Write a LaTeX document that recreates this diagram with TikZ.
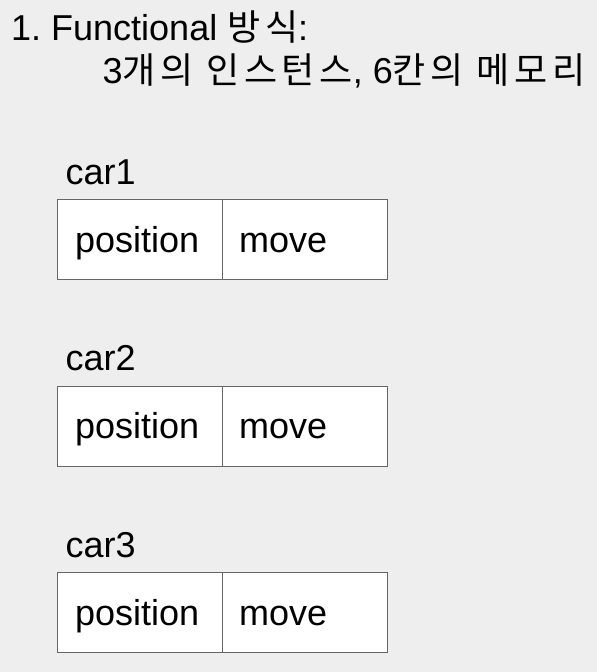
\documentclass[tikz,border=0pt]{standalone}
\usepackage{fontspec}
\setmainfont{Liberation Sans}
\newfontfamily\kr[LetterSpace=13]{Noto Sans CJK KR}
\usetikzlibrary{calc}
\definecolor{bg}{HTML}{EEEEEE}
\definecolor{bordergray}{HTML}{666666}
\frenchspacing
\begin{document}
\begin{tikzpicture}[x=1pt,y=-1pt,
  cell/.style={draw=bordergray,fill=white,line width=1.3pt,minimum width=165pt,minimum height=80pt,inner sep=0pt,anchor=north west},
  txt/.style={inner sep=0pt,anchor=base west,font=\fontsize{36}{42}\selectfont}]
\useasboundingbox[fill=bg] (0,0) rectangle (597,672);
\node[txt] (t1) at (11,40) {1. Functional {\kr 방식}:};
\node[txt] (t2) at (102.5,83) {3{\kr 개의 인스턴스}, 6{\kr 칸의 메모리}};
\foreach \i/\y in {1/199,2/385.5,3/572}{
  \node[txt] (lab\i) at (65.5,\y-15) {car\i};
  \node[cell] (p\i) at (57,\y) {};
  \node[cell] (m\i) at (222,\y) {};
  \node[txt] (pt\i) at ($(p\i.north west)+(18,53)$) {position};
  \node[txt] (mt\i) at ($(m\i.north west)+(17,53)$) {move};
}
\end{tikzpicture}
\end{document}
